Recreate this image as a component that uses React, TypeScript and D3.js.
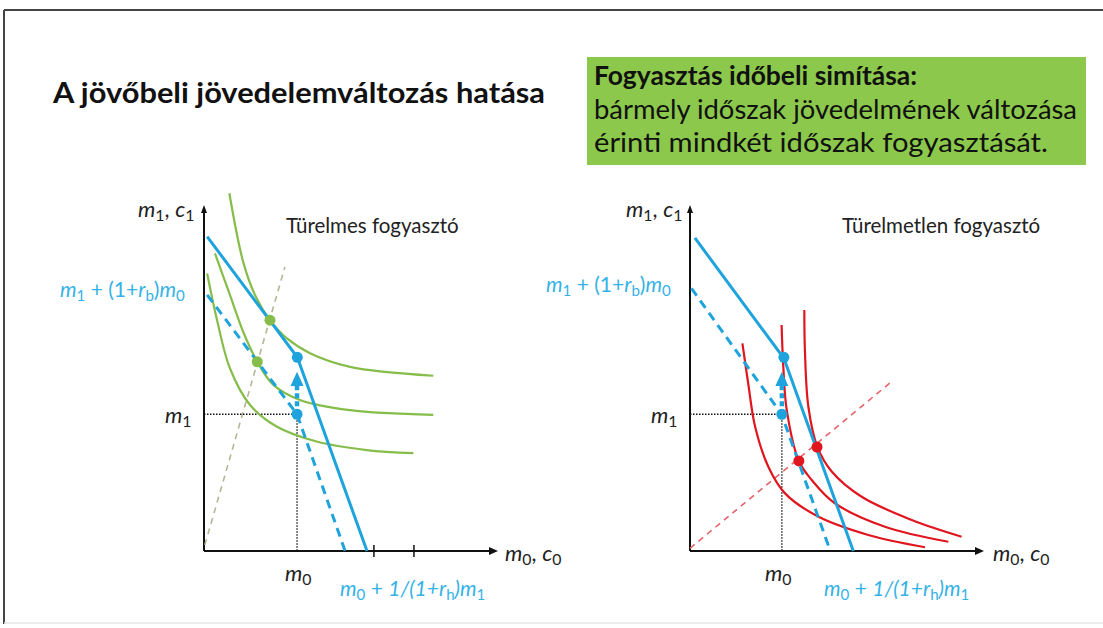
import React from "react";
import * as d3 from "d3";

// ---------- data (in diagram units: x 0..100, y 0..100) ----------
const endowM0 = 32.3;
const endowM1 = 40.1;
const newM1 = 56.8;
const xTicksLeft = [59, 72.9];

const leftBudgetNew: [number, number][] = [[1.1, 92.2], [32.4, 56.8], [56.6, 0]];
const leftBudgetOld: [number, number][] = [[1.1, 75.1], [32.3, 40.1], [49.0, 0]];
const leftIndiffTop: [number, number][] = [[8.8, 104.9], [13.6, 84.8], [17.7, 75.1], [22.9, 67.7], [28.7, 62.4], [36.8, 58.0], [50.7, 54.0], [79.6, 51.4]];
const leftIndiffMid: [number, number][] = [[3.8, 87.3], [9.0, 75.1], [13.6, 64.3], [18.5, 55.5], [24.1, 48.7], [33.3, 44.3], [50.7, 41.3], [79.6, 39.9]];
const leftIndiffLow: [number, number][] = [[1.1, 81.4], [4.4, 68.2], [9.0, 53.6], [16.0, 42.8], [25.2, 36.5], [39.1, 32.1], [56.5, 29.6], [72.7, 28.7]];
const leftRay: [number, number][] = [[0.3, 1.8], [28.1, 83.3]];
const leftOptima: [number, number][] = [[22.9, 67.7], [18.5, 55.5]];

const rightBudgetNew: [number, number][] = [[1.7, 91.8], [32.6, 56.5], [56.7, 0]];
const rightBudgetOld: [number, number][] = [[0.5, 77.0], [31.8, 40.1], [48.6, 0.3]];
const rightIndiffA: [number, number][] = [[18.2, 60.9], [20.2, 49.2], [22.6, 36.5], [27.2, 24.7], [33.0, 16.9], [44.5, 10.1], [61.9, 4.7], [81.6, 1.1]];
const rightIndiffB: [number, number][] = [[31.8, 66.3], [32.4, 54.0], [33.6, 41.3], [37.8, 26.4], [42.3, 20.8], [50.3, 14.0], [67.7, 7.1], [89.7, 2.7]];
const rightIndiffC: [number, number][] = [[39.7, 70.7], [39.9, 58.9], [41.1, 42.3], [44.2, 30.6], [49.2, 23.3], [59.6, 15.9], [77.0, 9.1], [94.3, 4.2]];
const rightRay: [number, number][] = [[0, 0.8], [70.6, 50.1]];
const rightOptima: [number, number][] = [[37.8, 26.4], [44.1, 30.5]];
const rightEndowM0 = 31.9;

const arrowTip = 52.6;
const arrowBase = 48.4;

const titleText = "A jövőbeli jövedelemváltozás hatása";
const boxLines = ["Fogyasztás időbeli simítása:", "bármely időszak jövedelmének változása", "érinti mindkét időszak fogyasztását."];
const leftPanelTitle = "Türelmes fogyasztó";
const rightPanelTitle = "Türelmetlen fogyasztó";

// ---------- styling ----------
const BLUE = "#1ea3dc";
const BLUE_TXT = "#35b2e6";
const GREEN = "#86bd4a";
const RED = "#e0161f";
const FONT = "Lato, 'Open Sans', sans-serif";
const boxLineWidths = [323, 483, 454];

const x = d3.scaleLinear().domain([0, 100]).range([0, 288]);
const y = d3.scaleLinear().domain([0, 100]).range([0, -341]);

const straight = d3.line<[number, number]>().x((d) => x(d[0])).y((d) => y(d[1]));
const smooth = d3
  .line<[number, number]>()
  .x((d) => x(d[0]))
  .y((d) => y(d[1]))
  .curve(d3.curveCatmullRom.alpha(0.5));

function Sub({ c }: { c: string }) {
  return (
    <tspan baselineShift="-25%" fontSize="0.72em" fontStyle="normal">
      {c}
    </tspan>
  );
}

function BudgetLabelTop() {
  return (
    <>
      <tspan fontStyle="italic">m</tspan>
      <Sub c="1" />
      <tspan> + (1+</tspan>
      <tspan fontStyle="italic">r</tspan>
      <Sub c="b" />
      <tspan>)</tspan>
      <tspan fontStyle="italic">m</tspan>
      <Sub c="0" />
    </>
  );
}

function BudgetLabelBottom() {
  return (
    <>
      <tspan fontStyle="italic">m</tspan>
      <Sub c="0" />
      <tspan> + </tspan>
      <tspan fontStyle="italic">1/(1+r</tspan>
      <Sub c="h" />
      <tspan fontStyle="italic">)m</tspan>
      <Sub c="1" />
    </>
  );
}

function Axes({ ox, oy }: { ox: number; oy: number }) {
  const xEnd = x(100);
  const yTop = y(100);
  return (
    <g transform={`translate(${ox},${oy})`}>
      <line x1={0} y1={0} x2={xEnd} y2={0} stroke="#111" strokeWidth={2} />
      <line x1={0} y1={0} x2={0} y2={yTop} stroke="#111" strokeWidth={2} />
      <path d={`M${xEnd + 6},0 L${xEnd - 3},-4 L${xEnd - 3},4 Z`} fill="#111" />
      <path d={`M0,${yTop - 5} L-3,${yTop + 3} L3,${yTop + 3} Z`} fill="#111" />
    </g>
  );
}

function Panel({
  ox,
  oy,
  budgetNew,
  budgetOld,
  curves,
  curveColor,
  ray,
  rayColor,
  optima,
  m0,
  ticks,
  title,
  titleX,
}: any) {
  return (
    <g>
      <Axes ox={ox} oy={oy} />
      <g transform={`translate(${ox},${oy})`}>
        {ticks.map((t: number, i: number) => (
          <line key={i} x1={x(t)} x2={x(t)} y1={-6} y2={6} stroke="#111" strokeWidth={1.5} />
        ))}
        <path d={straight(ray) || ""} fill="none" stroke={rayColor} strokeWidth={1.6} strokeDasharray="6 5" />
        <line x1={0} x2={x(m0)} y1={y(endowM1)} y2={y(endowM1)} stroke="#111" strokeWidth={1.3} strokeDasharray="1.5 1.5" />
        <line x1={x(m0)} x2={x(m0)} y1={y(endowM1)} y2={0} stroke="#111" strokeWidth={1.3} strokeDasharray="1.5 1.5" />
        {curves.map((c: [number, number][], i: number) => (
          <path key={i} d={smooth(c) || ""} fill="none" stroke={curveColor} strokeWidth={2.2} />
        ))}
        <path d={straight(budgetOld) || ""} fill="none" stroke={BLUE} strokeWidth={3} strokeDasharray="9 6" />
        <path d={straight(budgetNew) || ""} fill="none" stroke={BLUE} strokeWidth={3} />
        <line x1={x(m0)} x2={x(m0)} y1={y(endowM1)} y2={y(arrowBase)} stroke={BLUE} strokeWidth={4.5} strokeDasharray="5 3" />
        <path
          d={`M${x(m0)},${y(arrowTip)} L${x(m0) - 6.5},${y(arrowBase)} L${x(m0) + 6.5},${y(arrowBase)} Z`}
          fill={BLUE}
        />
        <circle cx={x(m0)} cy={y(endowM1)} r={5.5} fill={BLUE} />
        <circle cx={x(budgetNew[1][0])} cy={y(newM1)} r={5.5} fill={BLUE} />
        {optima.map((p: [number, number], i: number) => (
          <circle key={i} cx={x(p[0])} cy={y(p[1])} r={5.5} fill={curveColor} />
        ))}
      </g>
      <text x={titleX} y={233} fontFamily={FONT} fontSize={20.5} fill="#222">
        {title}
      </text>
    </g>
  );
}

export default function App() {
  const lx = 204;
  const rx = 690;
  const oy = 551;
  return (
    <svg width={1103} height={628} style={{ position: "absolute", left: 0, top: 0, background: "#fff" }}>
      <rect x={0} y={0} width={1103} height={628} fill="#fff" />
      <line x1={4} y1={10} x2={1103} y2={10} stroke="#444" strokeWidth={2} />
      <line x1={4} y1={10} x2={4} y2={624} stroke="#444" strokeWidth={2} />
      <line x1={4} y1={623} x2={1103} y2={623} stroke="#e6e6e6" strokeWidth={1.5} />

      <text x={53} y={103} fontFamily={FONT} fontWeight={700} fontSize={29} fill="#111" textLength={492} lengthAdjust="spacingAndGlyphs">
        {titleText}
      </text>

      <rect x={587} y={57} width={499} height={108} fill="#8cc84b" />
      {boxLines.map((l, i) => (
        <text
          key={i}
          x={594}
          y={85 + i * 33.5}
          fontFamily={FONT}
          fontSize={26.5}
          fontWeight={i === 0 ? 700 : 400}
          fill="#111"
          textLength={boxLineWidths[i]}
          lengthAdjust="spacingAndGlyphs"
        >
          {l}
        </text>
      ))}

      <Panel
        ox={lx}
        oy={oy}
        budgetNew={leftBudgetNew}
        budgetOld={leftBudgetOld}
        curves={[leftIndiffTop, leftIndiffMid, leftIndiffLow]}
        curveColor={GREEN}
        ray={leftRay}
        rayColor="#b3b796"
        optima={leftOptima}
        m0={endowM0}
        ticks={xTicksLeft}
        title={leftPanelTitle}
        titleX={286}
      />
      <Panel
        ox={rx}
        oy={oy}
        budgetNew={rightBudgetNew}
        budgetOld={rightBudgetOld}
        curves={[rightIndiffA, rightIndiffB, rightIndiffC]}
        curveColor={RED}
        ray={rightRay}
        rayColor="#e4636b"
        optima={rightOptima}
        m0={rightEndowM0}
        ticks={[]}
        title={rightPanelTitle}
        titleX={842}
      />

      <g fontFamily={FONT} fontSize={22} fill="#222">
        <text x={138} y={217}>
          <tspan fontStyle="italic">m</tspan><Sub c="1" /><tspan>, </tspan><tspan fontStyle="italic">c</tspan><Sub c="1" />
        </text>
        <text x={626} y={217}>
          <tspan fontStyle="italic">m</tspan><Sub c="1" /><tspan>, </tspan><tspan fontStyle="italic">c</tspan><Sub c="1" />
        </text>
        <text x={505} y={561}>
          <tspan fontStyle="italic">m</tspan><Sub c="0" /><tspan>, </tspan><tspan fontStyle="italic">c</tspan><Sub c="0" />
        </text>
        <text x={993} y={561}>
          <tspan fontStyle="italic">m</tspan><Sub c="0" /><tspan>, </tspan><tspan fontStyle="italic">c</tspan><Sub c="0" />
        </text>
        <text x={165} y={423}>
          <tspan fontStyle="italic">m</tspan><Sub c="1" />
        </text>
        <text x={651} y={423}>
          <tspan fontStyle="italic">m</tspan><Sub c="1" />
        </text>
        <text x={285} y={581}>
          <tspan fontStyle="italic">m</tspan><Sub c="0" />
        </text>
        <text x={765} y={581}>
          <tspan fontStyle="italic">m</tspan><Sub c="0" />
        </text>
      </g>
      <g fontFamily={FONT} fontSize={21} fill={BLUE_TXT}>
        <text x={60} y={297}><BudgetLabelTop /></text>
        <text x={546} y={292}><BudgetLabelTop /></text>
        <text x={340} y={596}><BudgetLabelBottom /></text>
        <text x={824} y={596}><BudgetLabelBottom /></text>
      </g>
    </svg>
  );
}
